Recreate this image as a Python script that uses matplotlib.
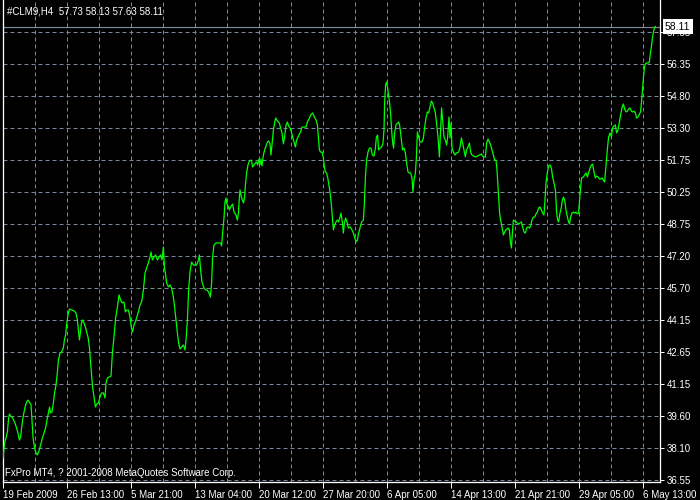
import numpy as np
import matplotlib
matplotlib.use("Agg")
import matplotlib.pyplot as plt

plt.rcParams['font.family'] = ['Liberation Sans', 'DejaVu Sans']

# ---- data (H4 closes of #CLM9) ----
bar_pos = [
    0, 0.8, 1.5, 2.2, 2.7, 3.2, 3.8, 4.8, 6.0, 6.8, 7.5, 8.2, 8.8, 9.3, 9.8, 10.5,
    11.3, 12.3, 13.2, 14.0, 14.5, 15.0, 15.7, 16.5, 17.2, 18.0, 18.8, 19.7, 20.5,
    21.3, 21.8, 22.7, 23.3, 23.8, 24.5, 25.2, 25.7, 26.5, 27.2, 27.7, 28.5, 29.3,
    30.2, 30.7, 31.3, 31.8, 32.5, 33.2, 34.3, 35.5, 36.5, 37.2, 37.7, 38.2, 38.7,
    39.2, 39.8, 40.5, 41.2, 41.8, 42.5, 43.2, 43.7, 44.2, 44.8, 45.5, 46.2, 46.8,
    47.7, 48.5, 49.3, 50.2, 51.0, 51.5, 52.2, 53.2, 54.0, 54.7, 55.5, 56.3, 57.2,
    58.0, 58.8, 59.5, 60.5, 61.2, 61.8, 62.7, 63.5, 64.2, 64.8, 65.5, 66.5, 67.7,
    68.5, 69.3, 70.2, 71.0, 71.8, 72.7, 73.5, 74.0, 74.7, 75.5, 76.3, 77.2, 78.0,
    78.8, 79.5, 80.2, 80.7, 81.2, 81.8, 82.7, 83.5, 84.3, 85.2, 85.8, 86.5, 87.2,
    87.8, 88.5, 89.3, 90.2, 91.0, 91.5, 92.2, 92.8, 93.5, 94.3, 95.2, 96.0, 96.8,
    97.7, 98.2, 98.8, 99.5, 100.5, 101.5, 102.2, 103.0, 103.7, 104.3, 104.8, 105.5,
    106.5, 107.7, 108.8, 109.3, 109.8, 110.5, 111.0, 111.5, 111.8, 112.7, 113.2,
    113.8, 114.8, 115.5, 116.5, 117.2, 117.7, 118.2, 118.5, 119.2, 120.2, 120.8,
    121.2, 121.8, 122.5, 123.2, 124.2, 124.8, 125.5, 126.2, 126.8, 127.3, 128.0,
    128.5, 129.0, 129.5, 130.2, 130.8, 131.5, 132.2, 132.8, 133.5, 134.0, 134.7,
    135.2, 135.8, 136.3, 137.2, 138.2, 138.8, 139.5, 140.2, 140.8, 141.5, 142.2,
    142.8, 143.5, 144.2, 144.8, 145.5, 146.2, 146.8, 147.5, 148.2, 148.8, 149.5,
    150.5, 151.5, 152.2, 153.2, 153.8, 154.8, 155.7, 156.5, 157.2, 157.7, 158.2,
    158.8, 159.5, 160.2, 160.7, 161.2, 161.8, 162.3, 162.8, 163.5, 164.2, 164.7,
    165.2, 165.8, 166.5, 167.2, 167.8, 168.5, 169.0, 169.7, 170.2, 170.7, 171.3,
    172.0, 172.7, 173.5, 174.3, 175.2, 175.8, 176.5, 177.2, 177.8, 178.5, 179.3,
    180.2, 180.7, 181.2, 181.8, 182.5, 183.2, 184.0, 184.7, 185.5, 186.2, 186.7,
    187.3, 187.8, 188.5, 189.3, 190.0, 190.5, 190.8, 191.3, 191.8, 192.3, 192.8,
    193.3, 193.8, 194.3, 194.8, 195.3, 195.8, 196.5, 197.2, 197.8, 198.3, 198.8,
    199.3, 199.8, 200.5, 201.2, 201.8, 202.5, 203.2, 203.8, 204.5, 205.0, 205.5,
    206.2, 206.7, 207.2, 207.8, 208.5, 209.5, 210.2, 210.8, 211.5, 212.2, 212.8,
    213.5, 214.2, 214.8, 215.5, 216.2, 216.8, 217.5, 218.2, 218.8, 219.3, 219.8,
    220.5, 221.2, 221.8, 222.3, 223.0, 223.5, 224.0, 224.5, 225.2, 226.0, 226.8,
    227.8, 228.5, 229.2, 229.8, 230.5, 231.2, 231.8, 232.5, 233.2, 233.8, 234.5,
    235.2, 236.2, 237.2, 238.2, 239.2, 239.8, 240.5, 241.2, 241.8, 242.5, 243.2,
    243.8, 244.5, 245.2, 245.8, 246.5, 247.0, 247.3, 247.8, 248.3, 248.8, 249.5,
    250.2, 250.8, 251.5, 252.5, 253.2, 253.7, 254.2, 254.7, 255.2, 255.8, 256.5,
    257.2, 257.8, 258.5, 259.2, 259.8, 260.5, 261.2, 261.8, 262.5, 263.2, 263.8,
    264.5, 265.2, 265.8, 266.5, 267.2, 267.8, 268.5, 269.2, 269.8, 270.5, 271.0,
    271.5, 272.2, 272.8, 273.5, 274.2, 274.8, 275.5, 276.2, 276.5, 276.8, 277.3,
    277.8, 278.5, 279.2, 279.7, 280.2, 280.8, 281.5, 282.2, 282.8, 283.3, 283.8,
    284.5, 285.2, 285.8, 286.5, 287.2, 287.8, 288.3, 288.8, 289.3, 290.2, 290.8,
    291.5, 292.2, 292.8, 293.5, 294.2, 294.8, 295.5, 296.2, 296.8, 297.5, 298.2,
    298.8, 299.5, 300.2, 300.8, 301.3, 301.8, 302.3, 302.8, 303.5, 304.2, 304.8,
    305.5, 306.2, 306.8, 307.5, 308.2, 308.8, 309.5, 310.2, 310.8, 311.5, 312.2,
    312.8, 313.5, 314.2, 314.8, 315.5, 316.2, 316.8, 317.5, 318.2, 318.8, 319.2,
    319.7, 320.2, 320.7, 321.2, 321.8, 322.7, 323.2, 323.7, 324.2, 324.7, 325.2,
    325.7, 326.2,
]
close = [
    37.60, 38.31, 38.55, 38.83, 39.40, 39.69, 39.59, 39.50, 39.26, 39.02, 38.78,
    38.45, 38.59, 39.02, 39.40, 39.78, 40.12, 40.35, 40.26, 40.12, 39.40, 38.59,
    38.12, 37.83, 37.74, 37.93, 38.21, 38.55, 38.78, 39.02, 39.31, 39.74, 40.02,
    39.74, 39.78, 40.21, 40.64, 41.07, 41.68, 42.25, 42.59, 42.64, 42.83, 43.21,
    43.44, 43.92, 44.39, 44.68, 44.63, 44.59, 44.49, 44.16, 43.68, 43.21, 43.54,
    44.01, 44.16, 44.01, 43.82, 43.59, 43.35, 42.87, 42.25, 41.64, 40.97, 40.50,
    40.02, 40.16, 40.21, 40.50, 40.69, 40.69, 40.45, 41.16, 41.40, 41.45, 41.49,
    42.59, 43.35, 44.25, 44.78, 45.35, 45.11, 44.97, 45.01, 44.54, 44.63, 44.63,
    44.30, 43.78, 43.59, 43.92, 44.16, 44.54, 44.87, 45.01, 45.58, 46.39, 46.63,
    46.87, 47.15, 47.39, 47.01, 47.15, 47.25, 47.01, 47.15, 47.25, 47.01, 47.63,
    46.68, 46.39, 45.92, 45.73, 45.82, 45.68, 45.25, 44.78, 44.16, 43.54, 43.06,
    42.78, 42.87, 42.97, 42.73, 43.21, 44.16, 45.58, 46.44, 46.91, 46.77, 46.77,
    46.77, 47.01, 47.25, 46.53, 45.96, 45.68, 45.58, 45.58, 45.44, 45.25, 45.92,
    47.15, 47.72, 47.82, 47.82, 47.82, 47.68, 48.29, 49.01, 49.77, 49.96, 49.72,
    49.53, 49.39, 49.53, 49.67, 49.29, 49.15, 48.91, 49.24, 50.00, 50.34, 50.00,
    49.72, 50.00, 50.58, 51.15, 51.53, 51.72, 51.76, 51.43, 51.53, 51.62, 51.67,
    51.53, 51.81, 51.53, 51.81, 51.48, 52.00, 52.24, 52.43, 52.62, 52.67, 52.53,
    52.00, 52.71, 53.19, 53.52, 53.76, 53.62, 53.52, 53.29, 53.05, 52.53, 52.86,
    53.43, 53.57, 53.38, 53.29, 53.10, 52.86, 52.62, 52.38, 52.71, 52.86, 53.00,
    53.10, 53.33, 53.33, 53.33, 53.57, 53.76, 53.90, 54.00, 53.81, 53.67, 53.43,
    52.86, 52.24, 52.14, 52.14, 51.86, 51.43, 51.19, 51.15, 50.96, 50.67, 50.24,
    49.62, 49.05, 48.44, 48.67, 48.82, 48.91, 48.82, 49.05, 49.24, 48.77, 48.29,
    48.77, 49.01, 48.82, 48.53, 48.58, 48.48, 48.29, 48.10, 47.87, 47.96, 48.29,
    48.53, 48.82, 48.91, 49.72, 50.96, 51.76, 52.14, 52.33, 52.33, 52.00, 51.95,
    52.33, 52.86, 52.95, 52.24, 52.33, 52.38, 52.57, 53.19, 54.47, 55.33, 55.47,
    55.19, 54.85, 54.47, 54.00, 53.19, 52.62, 52.33, 53.05, 53.43, 53.52, 53.57,
    53.43, 53.05, 52.62, 52.24, 52.33, 52.10, 51.62, 51.19, 51.15, 51.15, 50.91,
    50.24, 50.81, 51.15, 51.91, 53.10, 52.86, 52.62, 52.62, 52.81, 53.29, 53.76,
    54.05, 54.00, 54.28, 54.57, 54.47, 54.24, 54.00, 53.50, 52.86, 51.91, 53.19,
    54.24, 53.67, 52.86, 52.71, 52.48, 52.81, 53.81, 52.81, 53.52, 52.33, 52.14,
    52.00, 52.10, 52.14, 52.38, 52.81, 52.57, 52.24, 51.91, 52.24, 52.38, 52.57,
    52.14, 52.00, 51.95, 51.91, 51.95, 52.00, 52.05, 51.95, 51.91, 51.91, 52.57,
    52.76, 52.62, 52.48, 52.24, 52.00, 51.76, 51.76, 51.29, 50.81, 50.00, 49.24,
    48.91, 48.58, 48.20, 48.34, 48.44, 48.53, 48.44, 47.87, 47.58, 48.29, 48.91,
    48.86, 48.82, 48.77, 48.72, 48.77, 48.82, 48.58, 48.34, 48.29, 48.53, 48.58,
    48.53, 48.63, 48.91, 49.05, 49.05, 49.20, 49.29, 49.48, 49.53, 49.39, 49.24,
    49.15, 49.86, 50.67, 51.19, 51.48, 51.53, 51.38, 50.96, 50.67, 50.34, 49.86,
    49.29, 48.91, 48.82, 49.24, 49.53, 49.86, 50.00, 49.86, 49.39, 49.05, 48.82,
    48.72, 49.05, 49.24, 49.29, 49.24, 49.29, 49.20, 49.24, 49.86, 50.48, 50.91,
    50.96, 51.05, 51.15, 50.96, 51.15, 51.38, 51.53, 51.57, 51.19, 50.91, 51.00,
    50.96, 50.86, 50.86, 50.91, 50.81, 50.72, 51.29, 51.91, 52.38, 52.86, 53.05,
    52.86, 53.29, 53.38, 53.43, 53.05, 53.19, 53.57, 53.90, 54.24, 54.43, 54.19,
    54.05, 54.09, 54.19, 54.24, 54.09, 54.05, 54.09, 54.00, 53.76, 53.81, 53.95,
    54.05, 54.47, 55.09, 55.66, 56.14, 56.33, 56.38, 56.38, 56.42, 56.85, 57.14,
    57.56, 57.85, 58.04, 58.11,
]

last_price = 58.11
header = "#CLM9,H4  57.73 58.13 57.63 58.11"
footer = "FxPro MT4, ? 2001-2008 MetaQuotes Software Corp."

price_labels = ["36.55", "38.10", "39.60", "41.15", "42.65", "44.15", "45.70",
                "47.20", "48.75", "50.25", "51.75", "53.30", "54.80", "56.35",
                "57.85"]
time_labels = ["19 Feb 2009", "26 Feb 13:00", "5 Mar 21:00", "13 Mar 04:00",
               "20 Mar 12:00", "27 Mar 20:00", "6 Apr 05:00", "14 Apr 13:00",
               "21 Apr 21:00", "29 Apr 05:00", "6 May 13:00"]

# ---- layout / style ----
W, H = 700, 500
px = 0.72  # 1 pixel in points at dpi 100
grid_col = "#778899"

fig = plt.figure(figsize=(7, 5), dpi=100, facecolor="black")
ax = fig.add_axes([2.5 / W, 18 / H, (660 - 2.5) / W, 482 / H])
ax.set_facecolor("black")

step = (57.85 - 36.55) / 448.0
ax.set_ylim(36.55 - 2 * step, 57.85 + 32 * step)
ax.set_xlim(-0.25, 328.5)

ytick_pos = np.linspace(36.55, 57.85, len(price_labels))
xtick_pos = np.arange(len(time_labels)) * 32

# grid
for y in ytick_pos:
    ax.axhline(y, color=grid_col, lw=px, dashes=(4, 3), zorder=1)
for x in np.arange(16, 321, 16):
    ax.axvline(x, color=grid_col, lw=px, dashes=(4, 3), zorder=1)

# current price line
ax.axhline(last_price, color=grid_col, lw=px * 1.2, zorder=2)

# close line
ax.plot(bar_pos, close, color="#00ff00", lw=0.9, zorder=3)

# axes styling
for s in ["left", "right", "bottom"]:
    ax.spines[s].set_color("white")
    ax.spines[s].set_linewidth(px * 1.3)
ax.spines["top"].set_visible(False)

ax.yaxis.tick_right()
ax.set_yticks(ytick_pos)
ax.set_yticklabels(price_labels)
ax.set_xticks(xtick_pos)
ax.set_xticklabels(time_labels)
ax.tick_params(axis="y", colors="white", labelcolor="white", length=3, width=px,
               direction="out", pad=2, labelsize=7)
ax.tick_params(axis="x", colors="white", labelcolor="white", length=4, width=px,
               direction="out", pad=1.5, labelsize=7)
for lab in ax.get_xticklabels():
    lab.set_horizontalalignment("left")

# current price box (covers the top price label, as in the terminal)
ax.annotate(f"{last_price:.2f}", xy=(1.0, last_price),
            xycoords=("axes fraction", "data"), xytext=(5, 0),
            textcoords="offset pixels", ha="left", va="center",
            color="black", fontsize=7.5, annotation_clip=False, zorder=10,
            bbox=dict(boxstyle="square,pad=0.22", fc="white", ec="none"))

fig.text(7 / W, 1 - 11 / H, header, color="white", fontsize=7, va="center",
         ha="left")
fig.text(5 / W, 1 - 473 / H, footer, color="white", fontsize=7, va="center",
         ha="left")

fig.savefig("out.png", dpi=100, facecolor="black")
